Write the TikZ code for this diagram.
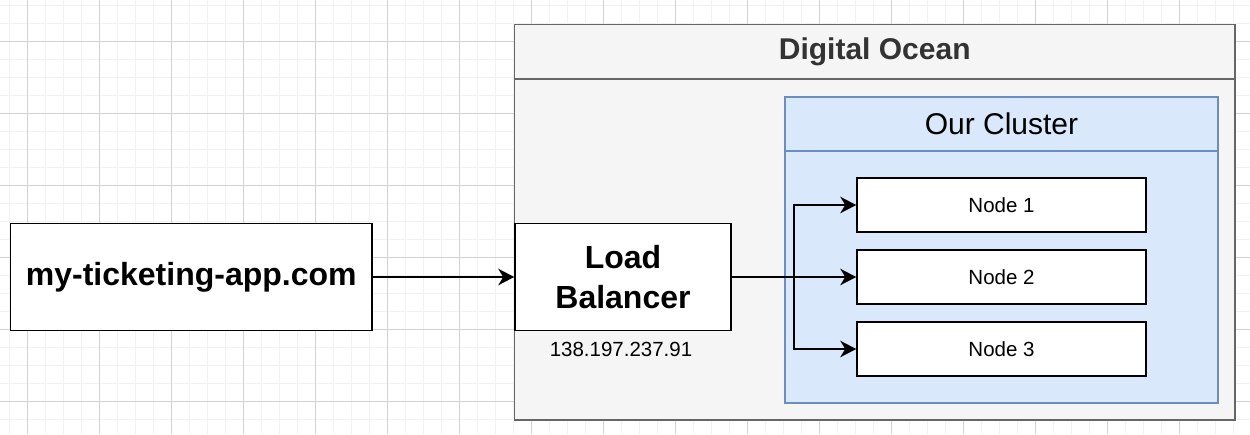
\documentclass[tikz,border=0pt]{standalone}
\usepackage{fontspec}
\setmainfont{Liberation Sans}
\usetikzlibrary{arrows.meta}
\definecolor{gridminor}{HTML}{F2F2F2}
\definecolor{gridmajor}{HTML}{D2D2D2}
\definecolor{dofill}{HTML}{F5F5F5}
\definecolor{dostroke}{HTML}{666666}
\definecolor{dotext}{HTML}{333333}
\definecolor{clfill}{HTML}{DAE8FC}
\definecolor{clstroke}{HTML}{6C8EBF}
\begin{document}
\begin{tikzpicture}[x=1pt,y=-1pt,
  whitebox/.style={draw=black, fill=white, line width=1.5pt, inner sep=0pt, align=center},
  dobox/.style={draw=dostroke, fill=dofill, line width=1.5pt, inner sep=0pt},
  clbox/.style={draw=clstroke, fill=clfill, line width=1.5pt, inner sep=0pt},
  bigtext/.style={font=\bfseries\fontsize{32}{40}\selectfont},
  nodetext/.style={font=\fontsize{20.5}{24}\selectfont},
  arr/.style={draw=black, line width=1.7pt, -{Stealth[length=16pt,width=16.5pt,inset=5pt]}},
  minorline/.style={draw=gridminor, line width=1.3pt},
  majorline/.style={draw=gridmajor, line width=1pt}
]
\useasboundingbox (0,0) rectangle (1250,434);
\fill[white] (0,0) rectangle (1250,434);
% grid
\foreach \x in {9.3,27.3,...,1250} \draw[minorline] (\x,0) -- (\x,434);
\foreach \y in {5.3,23.3,...,434} \draw[minorline] (0,\y) -- (1250,\y);
\foreach \x in {27.3,99.3,...,1250} \draw[majorline] (\x,0) -- (\x,434);
\foreach \y in {41.3,113.3,...,434} \draw[majorline] (0,\y) -- (1250,\y);

% Digital Ocean container
\node[dobox, minimum width=720.5pt, minimum height=395.5pt] (do) at (874.75,222.25) {};
\coordinate (dosep) at (0,79);
\draw[draw=dostroke, line width=1.5pt] (do.west |- dosep) -- (do.east |- dosep);
\node[text=dotext, font=\bfseries\fontsize{30}{36}\selectfont] (dotitle) at (874.75,52) {Digital Ocean};

% Cluster container
\node[clbox, minimum width=433pt, minimum height=306pt] (cl) at (1001.5,250) {};
\coordinate (clsep) at (0,151);
\draw[draw=clstroke, line width=1.5pt] (cl.west |- clsep) -- (cl.east |- clsep);
\node[font=\fontsize{30}{36}\selectfont] (cltitle) at (1001.5,124) {Our Cluster};

% main boxes
\node[whitebox, bigtext, minimum width=361.5pt, minimum height=107pt] (app) at (191.25,277) {my-ticketing-app.com};
\node[whitebox, bigtext, minimum width=216pt, minimum height=107pt] (lb) at (623,277) {Load\\Balancer};
\node[nodetext] (ip) at (621,349) {138.197.237.91};

\node[whitebox, nodetext, minimum width=289pt, minimum height=54pt] (n1) at (1001.5,205) {Node 1};
\node[whitebox, nodetext, minimum width=289pt, minimum height=54pt] (n2) at (1001.5,277) {Node 2};
\node[whitebox, nodetext, minimum width=289pt, minimum height=54pt] (n3) at (1001.5,349) {Node 3};

% connectors
\draw[arr] (app.east) -- (lb.west);
\coordinate (split) at (794,277);
\draw[arr] (lb.east) -- (n2.west);
\draw[arr] (split) |- (n1.west);
\draw[arr] (split) |- (n3.west);
\end{tikzpicture}
\end{document}
